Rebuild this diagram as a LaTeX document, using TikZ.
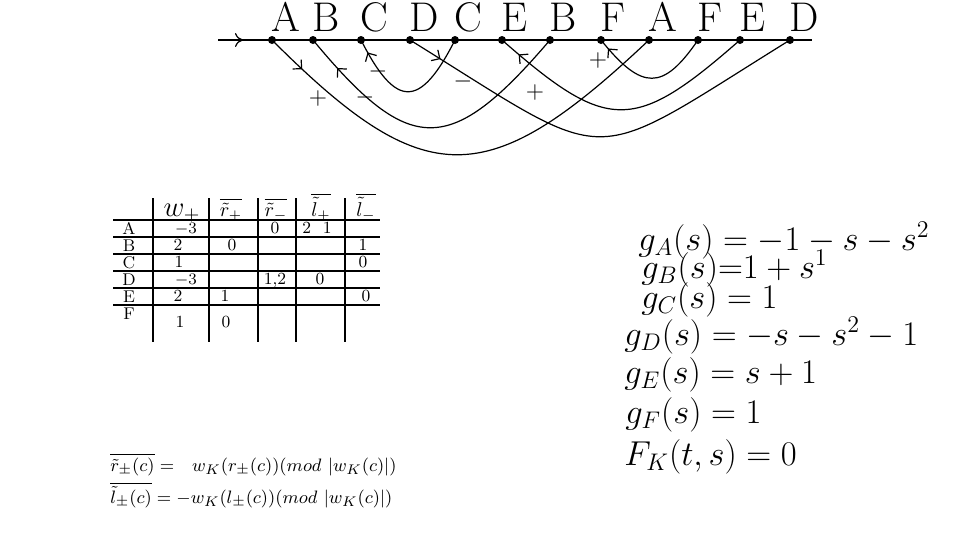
\documentclass[tikz,border=0pt]{standalone}
\usepackage{amsmath}
\usetikzlibrary{arrows.meta,decorations.markings}

\begin{document}
\begin{tikzpicture}[
      x=0.5pt, y=-0.5pt,
      dot/.style={circle, fill, inner sep=0pt, minimum size=4pt},
      ltr/.style={font=\huge, inner sep=0pt, anchor=base west},
      sgn/.style={font=\large, inner sep=0pt},
      chord/.style={semithick},
      orient/.style={postaction={decorate}, decoration={markings,
        mark=at position #1 with {\arrow{Straight Barb[angle=90:4.5pt]}}}},
      tabline/.style={line width=0.7pt},
      hd/.style={font=\fontsize{10}{12}\selectfont, inner sep=0pt, anchor=base},
      cell/.style={font=\fontsize{8.5}{10}\selectfont, inner sep=0pt, anchor=base},
      eqn/.style={font=\fontsize{18.3}{22}\selectfont, inner sep=0pt, anchor=base west},
      defn/.style={font=\fontsize{9.4}{11}\selectfont, inner sep=0pt, anchor=base west}
    ]
    \useasboundingbox (0,0) rectangle (958,532);

    % Gauss diagram
    \coordinate (in) at (218,40);
    \coordinate (out) at (812,40);
    \draw[semithick, postaction={decorate}, decoration={markings,
      mark=at position 12.5pt with {\arrow{Computer Modern Rightarrow[length=4pt,width=7pt]}}}]
      (in) -- (out);
    \foreach \x/\t/\n in {272/A/a1, 313/B/b1, 361/C/c1, 410/D/d1, 455/C/c2, 502/E/e1,
                          550/B/b2, 601/F/f1, 649/A/a2, 698/F/f2, 740/E/e2, 790/D/d2} {
      \node[dot] (\n) at (\x,40) {};
      \node[ltr] (t\n) at (\x-1,31) {\t};
    }
    \draw[chord, orient=21pt] (a1.center) .. controls (425,193) and (487,193) .. (a2.center);
    \draw[chord, orient=-18.5pt] (b2.center) .. controls (450,157) and (410,157) .. (b1.center);
    \draw[chord, orient=-7pt] (c2.center) .. controls (420,109) and (396,109) .. (c1.center);
    \draw[chord, orient=18pt] (d1.center) .. controls (618,169) and (582,169) .. (d2.center);
    \draw[chord, orient=-11pt] (e2.center) .. controls (634,133) and (608,133) .. (e1.center);
    \draw[chord, orient=-5.5pt] (f2.center) .. controls (663,91) and (642,91) .. (f1.center);
    \node[sgn] (sa) at (318,98) {$+$};
    \node[sgn] (sb) at (365,97) {$-$};
    \node[sgn] (sc) at (378,71) {$-$};
    \node[sgn] (sd) at (463,81) {$-$};
    \node[sgn] (se) at (535,92) {$+$};
    \node[sgn] (sf) at (598,60) {$+$};

    % table
    \foreach \x in {153,209,258,296,345}
      \draw[tabline] (\x,198) -- (\x,342);
    \foreach \y in {220,237,254,271,288,305}
      \draw[tabline] (113,\y) -- (380,\y);
    \node[hd, font=\fontsize{14}{16}\selectfont] (hw) at (182,216) {$w_+$};
    \node[hd] (hrp) at (231,216) {$\overline{\tilde r_+}$};
    \node[hd] (hrm) at (276,216) {$\overline{\tilde r_-}$};
    \node[hd] (hlp) at (321,216) {$\overline{\tilde l_+}$};
    \node[hd] (hlm) at (366,216) {$\overline{\tilde l_-}$};
    \foreach \t/\y in {A/234, B/251, C/268, D/285, E/302, F/319}
      \node[cell] (r\t) at (129,\y) {\t};
    \node[cell] (wa) at (186,233.5) {$-3$};
    \node[cell] (rma) at (275,233.5) {0};
    \node[cell] (lpa) at (317,233.5) {2\ \ 1};
    \node[cell] (wb) at (178,250.5) {2};
    \node[cell] (rpb) at (232,250.5) {0};
    \node[cell] (lmb) at (363,250.5) {1};
    \node[cell] (wc) at (179,267.5) {1};
    \node[cell] (lmc) at (363,267.5) {0};
    \node[cell] (wd) at (186,284.5) {$-3$};
    \node[cell] (rmd) at (275,284.5) {1,2};
    \node[cell] (lpd) at (320,284.5) {0};
    \node[cell] (we) at (178,301.5) {2};
    \node[cell] (rpe) at (225,301.5) {1};
    \node[cell] (lme) at (366,301.5) {0};
    \node[cell] (wf) at (180,327) {1};
    \node[cell] (rpf) at (226,327) {0};

    % definitions
    \node[defn] (rdef) at (110,471)
      {$\overline{\tilde r_\pm(c)} = \ \ w_K(r_\pm(c))(mod\ |w_K(c)|)$};
    \node[defn] (ldef) at (110,503)
      {$\overline{\tilde l_\pm(c)} = -w_K(l_\pm(c))(mod\ |w_K(c)|)$};

    % polynomials
    \node[eqn] (ga) at (638,250) {$g_A(s) = -1 - s - s^2$};
    \node[eqn] (gb) at (641,278) {$g_B(s){=}1 + s^1$};
    \node[eqn] (gc) at (641,308) {$g_C(s) = 1$};
    \node[eqn] (gd) at (624,345) {$g_D(s) = -s - s^2 - 1$};
    \node[eqn] (ge) at (624,383) {$g_E(s) = s + 1$};
    \node[eqn] (gf) at (625,423) {$g_F(s) = 1$};
    \node[eqn] (fk) at (624,465) {$F_K(t,s) = 0$};
  \end{tikzpicture}
\end{document}
